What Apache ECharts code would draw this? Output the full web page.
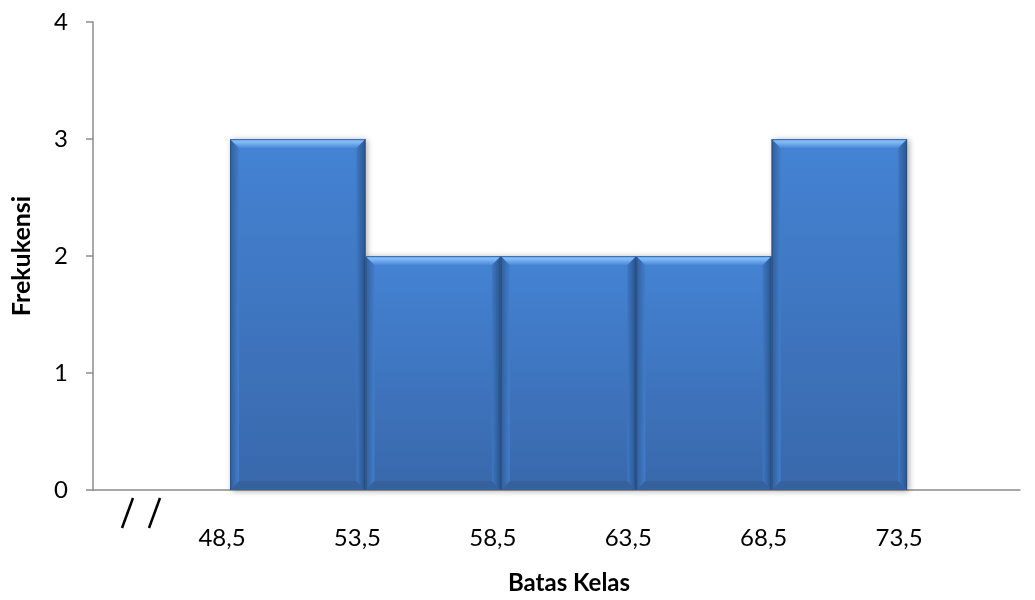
<!DOCTYPE html>
<html>
<head>
<meta charset="utf-8">
<script src="https://cdn.jsdelivr.net/npm/echarts@6/dist/echarts.min.js"></script>
<style>
  html, body { margin: 0; padding: 0; background: #fff; }
  #chart { width: 1035px; height: 600px; }
</style>
</head>
<body>
<div id="chart"></div>
<script>
// Class boundaries and frequencies of the histogram
const binStart = [48.5, 53.5, 58.5, 63.5, 68.5];
const binEnd = [53.5, 58.5, 63.5, 68.5, 73.5];
const frequencies = [3, 2, 2, 2, 3];
const boundaryTicks = [48.5, 53.5, 58.5, 63.5, 68.5, 73.5];
const yTicks = [0, 1, 2, 3, 4];

const FONT = 'Lato, "Open Sans", sans-serif';
const bins = binStart.map((s, i) => [s, binEnd[i], frequencies[i]]);

const chart = echarts.init(document.getElementById('chart'));

// Bevelled bar spanning one class interval
function renderBin(params, api) {
  const x0 = api.value(0), x1 = api.value(1), v = api.value(2);
  const pTop = api.coord([x0, v]);
  const pBot = api.coord([x1, 0]);
  const L = pTop[0], T = pTop[1], R = pBot[0], B = pBot[1];
  const b = 9;
  const G = echarts.graphic.LinearGradient;
  return {
    type: 'group',
    children: [
      {
        type: 'rect',
        shape: { x: L, y: T, width: R - L, height: B - T },
        style: {
          fill: new G(0, 0, 0, 1, [
            { offset: 0, color: '#4483d4' },
            { offset: 1, color: '#3968ab' }
          ]),
          shadowBlur: 6, shadowOffsetX: 2, shadowOffsetY: 1,
          shadowColor: 'rgba(0,0,0,0.35)'
        }
      },
      {
        type: 'polygon',
        shape: { points: [[L, B], [R, B], [R - b, B - b], [L + b, B - b]] },
        style: { fill: '#35629d' }
      },
      {
        type: 'polygon',
        shape: { points: [[L, T], [L + b, T + b], [L + b, B - b], [L, B]] },
        style: {
          fill: new G(0, 0, 1, 0, [
            { offset: 0, color: '#325e99' },
            { offset: 1, color: '#417ecc' }
          ])
        }
      },
      {
        type: 'polygon',
        shape: { points: [[R, T], [R, B], [R - b, B - b], [R - b, T + b]] },
        style: {
          fill: new G(0, 0, 1, 0, [
            { offset: 0, color: '#3e77c2' },
            { offset: 1, color: '#2a558e' }
          ])
        }
      },
      {
        type: 'polygon',
        shape: { points: [[L, T], [R, T], [R - b, T + b], [L + b, T + b]] },
        style: {
          fill: new G(0, 0, 0, 1, [
            { offset: 0, color: '#5a98e4' },
            { offset: 0.3, color: '#86bdf5' },
            { offset: 1, color: '#4888d7' }
          ])
        }
      },
      {
        type: 'line',
        shape: { x1: L + 0.5, y1: T, x2: L + 0.5, y2: B },
        style: { stroke: '#2b5184', lineWidth: 1 }
      },
      {
        type: 'line',
        shape: { x1: R - 0.5, y1: T, x2: R - 0.5, y2: B },
        style: { stroke: '#2b5184', lineWidth: 1 }
      },
      {
        type: 'line',
        shape: { x1: L, y1: T + 0.5, x2: R, y2: T + 0.5 },
        style: { stroke: '#3c73b8', lineWidth: 1 }
      }
    ]
  };
}

chart.setOption({
  animation: false,
  backgroundColor: '#fff',
  grid: { left: 93, right: 15, top: 22, bottom: 107, containLabel: false },
  xAxis: {
    type: 'value',
    min: 43.44,
    max: 77.67,
    splitLine: { show: false },
    axisLine: { show: true, onZero: false, lineStyle: { color: '#8c8c8c', width: 1.5 } },
    axisTick: { show: false },
    axisLabel: {
      customValues: boundaryTicks,
      margin: 36,
      padding: [0, 16, 0, 0],
      color: '#000',
      fontFamily: FONT,
      fontSize: 24,
      formatter: v => v.toFixed(1).replace('.', ',')
    },
    name: 'Batas Kelas',
    nameLocation: 'middle',
    nameGap: 81,
    nameTextStyle: {
      color: '#000', fontFamily: FONT, fontWeight: 'bold', fontSize: 24,
      padding: [0, 0, 0, 25]
    }
  },
  yAxis: {
    type: 'value',
    min: 0,
    max: 4,
    interval: 1,
    splitLine: { show: false },
    axisLine: { show: true, lineStyle: { color: '#8c8c8c', width: 1.5 } },
    axisTick: { show: true, inside: false, length: 7, lineStyle: { color: '#8c8c8c', width: 1.5 } },
    axisLabel: {
      margin: 25,
      color: '#000',
      fontFamily: FONT,
      fontSize: 24,
      formatter: v => (yTicks.includes(v) ? String(v) : '')
    },
    name: 'Frekukensi',
    nameLocation: 'middle',
    nameGap: 59,
    nameRotate: 90,
    nameTextStyle: { color: '#000', fontFamily: FONT, fontWeight: 'bold', fontSize: 25 }
  },
  // axis break marks below the origin
  graphic: [
    { type: 'line', shape: { x1: 133, y1: 498, x2: 122, y2: 528 }, style: { stroke: '#000', lineWidth: 2.5 } },
    { type: 'line', shape: { x1: 160, y1: 498, x2: 149, y2: 528 }, style: { stroke: '#000', lineWidth: 2.5 } }
  ],
  series: [{
    type: 'custom',
    renderItem: renderBin,
    encode: { x: [0, 1], y: 2 },
    data: bins,
    z: 1
  }]
});
</script>
</body>
</html>
